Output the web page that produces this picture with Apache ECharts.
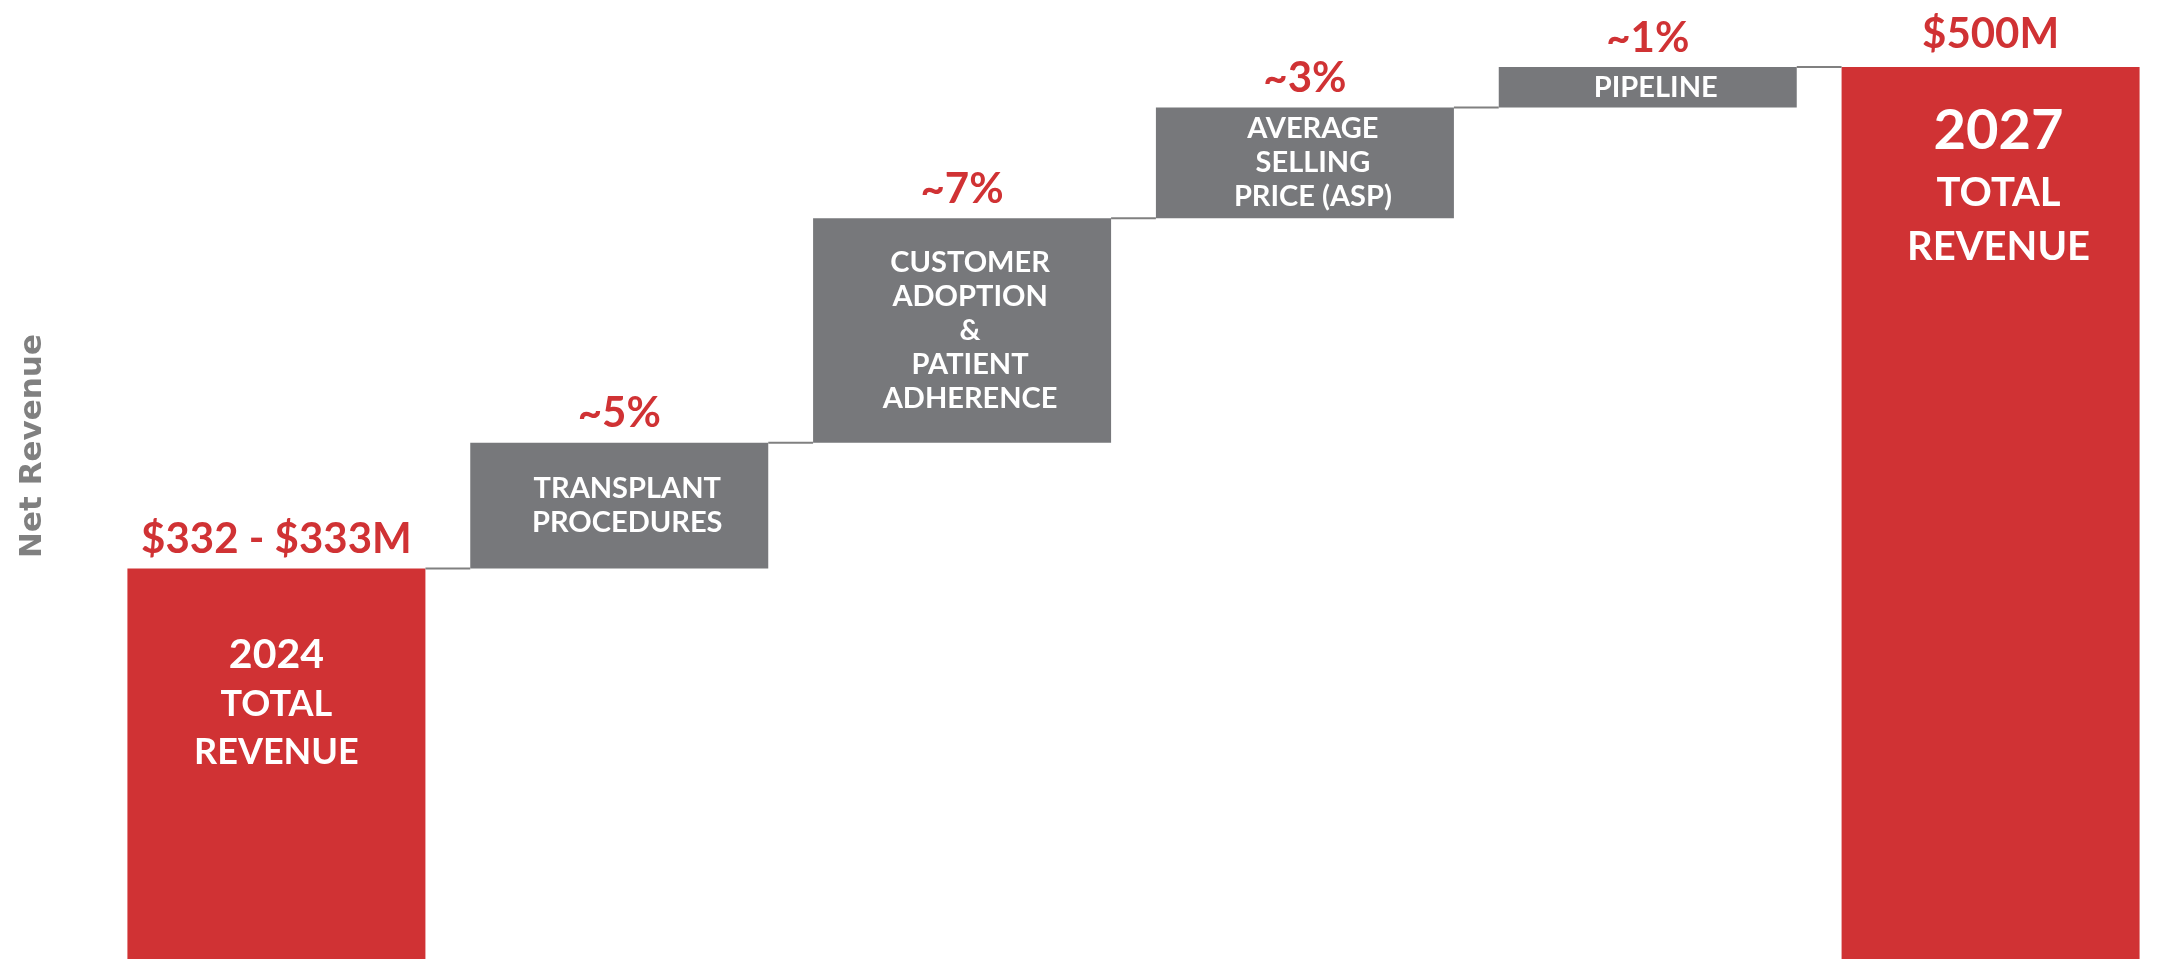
<!DOCTYPE html>
<html>
<head>
<meta charset="utf-8">
<title>Net Revenue bridge</title>
<script src="https://cdn.jsdelivr.net/npm/echarts@6/dist/echarts.min.js"></script>
<style>
    html, body { margin: 0; padding: 0; background: #fff; }
    #chart { width: 2162px; height: 959px; }
</style>
</head>
<body>
<div id="chart"></div>
<script>
// data ($M)
var categories = ['2024 Total Revenue', 'Transplant Procedures', 'Customer Adoption & Patient Adherence', 'Average Selling Price (ASP)', 'Pipeline', '2027 Total Revenue'];
var totals = [332.5, '-', '-', '-', '-', 500];
var steps = ['-', 42, 75, 37, 13.5, '-'];
var topLabels = ['$332 - $333M', '~5%', '~7%', '~3%', '~1%', '$500M'];
var barTexts = [
    ['2024', 'TOTAL', 'REVENUE'],
    ['TRANSPLANT', 'PROCEDURES'],
    ['CUSTOMER', 'ADOPTION', '&', 'PATIENT', 'ADHERENCE'],
    ['AVERAGE', 'SELLING', 'PRICE (ASP)'],
    ['PIPELINE'],
    ['2027', 'TOTAL', 'REVENUE']
];

var RED = '#d03234';
var GREY = '#77787b';
var BAR_W = 298;

// running totals -> invisible base + top of each bar
var bases = [];
var tops = [];
var running = 0;
for (var i = 0; i < categories.length; i++) {
    if (totals[i] !== '-') {
        bases.push('-');
        running = totals[i];
    } else {
        bases.push(running);
        running += steps[i];
    }
    tops.push(running);
}

// red total bars, each with its own inside text block
var totalData = totals.map(function (v, i) {
    if (v === '-') return '-';
    var first = i === 0;
    return {
        value: v,
        label: {
            show: true,
            position: 'insideTop',
            distance: first ? 61 : 30,
            offset: [first ? 0 : 8, 0],
            formatter: '{y|' + barTexts[i][0] + '}\n{a|' + barTexts[i][1] + '}\n{b|' + barTexts[i][2] + '}',
            rich: {
                y: { fontSize: first ? 41 : 56, lineHeight: first ? 50 : 68, fontWeight: 'bold', color: '#fff', fontFamily: 'Lato' },
                a: { fontSize: first ? 36 : 40, lineHeight: first ? 50 : 56, fontWeight: 'bold', color: '#fff', fontFamily: 'Lato' },
                b: { fontSize: first ? 36 : 40, lineHeight: first ? 46 : 52, fontWeight: 'bold', color: '#fff', fontFamily: 'Lato' }
            }
        }
    };
});

var stepData = steps.map(function (v, i) {
    if (v === '-') return '-';
    return { value: v, name: barTexts[i].join('\n') };
});

var option = {
    animation: false,
    grid: {
        left: 105,
        width: 2066,
        top: 67,
        bottom: 0
    },
    xAxis: {
        type: 'category',
        data: categories,
        show: false
    },
    yAxis: {
        type: 'value',
        min: 202,
        max: 500,
        axisLine: { show: false },
        axisTick: { show: false },
        axisLabel: { show: false },
        splitLine: { show: false },
        name: 'Net Revenue',
        nameLocation: 'middle',
        nameRotate: 90,
        nameGap: 57,
        nameTextStyle: {
            color: '#808080',
            fontSize: 31,
            fontWeight: 'bold',
            fontFamily: 'DejaVu Sans',
            padding: [0, 0, 0, 134]
        }
    },
    series: [
        {
            name: 'base',
            type: 'bar',
            stack: 'bridge',
            barWidth: BAR_W,
            silent: true,
            itemStyle: { color: 'transparent' },
            data: bases
        },
        {
            name: 'total',
            type: 'bar',
            stack: 'bridge',
            barWidth: BAR_W,
            itemStyle: { color: RED },
            data: totalData
        },
        {
            name: 'step',
            type: 'bar',
            stack: 'bridge',
            barWidth: BAR_W,
            itemStyle: { color: GREY },
            label: {
                show: true,
                position: 'inside',
                offset: [8, 0],
                formatter: '{b}',
                color: '#fff',
                fontSize: 29,
                lineHeight: 34,
                fontWeight: 'bold',
                fontFamily: 'Lato'
            },
            data: stepData
        },
        {
            // connector lines + the red figures above the bars
            name: 'connector',
            type: 'custom',
            silent: true,
            z: 5,
            data: tops.map(function (v, i) { return [i, v]; }),
            renderItem: function (params, api) {
                var idx = api.value(0);
                var level = api.value(1);
                var p = api.coord([idx, level]);
                var children = [{
                    type: 'text',
                    style: {
                        text: topLabels[idx],
                        x: p[0],
                        y: p[1] - (idx === categories.length - 1 ? 12 : 8),
                        align: 'center',
                        verticalAlign: 'bottom',
                        fill: RED,
                        font: 'bold 42px Lato'
                    }
                }];
                if (idx < categories.length - 1) {
                    var q = api.coord([idx + 1, level]);
                    children.push({
                        type: 'line',
                        shape: { x1: p[0] + BAR_W / 2, y1: p[1], x2: q[0] - BAR_W / 2, y2: p[1] },
                        style: { stroke: '#808080', lineWidth: 2 }
                    });
                }
                return { type: 'group', children: children };
            }
        }
    ]
};

var chart = echarts.init(document.getElementById('chart'));
chart.setOption(option);
</script>
</body>
</html>
